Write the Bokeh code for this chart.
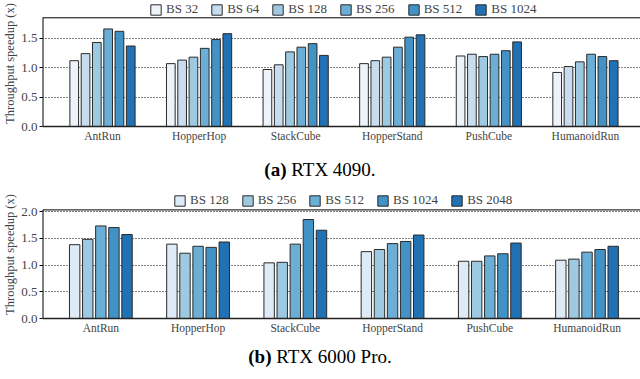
from bokeh.plotting import figure
from bokeh.models import (ColumnDataSource, Range1d, FixedTicker, Legend, Span,
                          LegendItem, Div, NumeralTickFormatter)
from bokeh.layouts import column
from bokeh.transform import dodge
from bokeh.embed import file_html
from bokeh.resources import INLINE

# ---------------- data ----------------
envs = ["AntRun", "HopperHop", "StackCube", "HopperStand", "PushCube", "HumanoidRun"]

labels_4090 = ["BS 32", "BS 64", "BS 128", "BS 256", "BS 512", "BS 1024"]
rtx4090_bs32 = [1.12, 1.07, 0.97, 1.07, 1.20, 0.92]
rtx4090_bs64 = [1.24, 1.13, 1.05, 1.12, 1.23, 1.02]
rtx4090_bs128 = [1.43, 1.18, 1.27, 1.18, 1.19, 1.10]
rtx4090_bs256 = [1.66, 1.33, 1.35, 1.35, 1.23, 1.23]
rtx4090_bs512 = [1.62, 1.48, 1.41, 1.52, 1.29, 1.19]
rtx4090_bs1024 = [1.37, 1.58, 1.21, 1.56, 1.44, 1.12]
colors_4090 = ["#eef2fb", "#c8dcf0", "#9ecae1", "#6baed6", "#4292c6", "#2171b5"]

labels_6000 = ["BS 128", "BS 256", "BS 512", "BS 1024", "BS 2048"]
rtx6000_bs128 = [1.38, 1.39, 1.04, 1.25, 1.07, 1.09]
rtx6000_bs256 = [1.48, 1.22, 1.05, 1.29, 1.07, 1.11]
rtx6000_bs512 = [1.73, 1.35, 1.39, 1.40, 1.17, 1.24]
rtx6000_bs1024 = [1.70, 1.33, 1.85, 1.44, 1.21, 1.29]
rtx6000_bs2048 = [1.57, 1.43, 1.65, 1.56, 1.41, 1.35]
colors_6000 = ["#deebf7", "#9ecae1", "#6baed6", "#4292c6", "#2171b5"]

ticks_4090 = [0.0, 0.5, 1.0, 1.5]
ticks_6000 = [0.0, 0.5, 1.0, 1.5, 2.0]

SERIF = "Liberation Serif"
W = 640


def make_chart(series, labels, colors, y_spine, ticks, bar_w, pitch, height,
               border_bottom, spine_px, legend_x, legend_px, xr):
    """spine_px: pixels from figure top to the top spine; legend_px: to legend bottom."""
    data = {"x": list(range(len(envs)))}
    for i, s in enumerate(series):
        data["s%d" % i] = s
    src = ColumnDataSource(data)

    frame_h = height - border_bottom
    y_end = y_spine * frame_h / (frame_h - spine_px)

    p = figure(width=W, height=height, output_backend="svg", toolbar_location=None,
               title=None,
               x_range=Range1d(*xr), y_range=Range1d(0, y_end),
               min_border_left=42, min_border_right=0, min_border_top=0,
               min_border_bottom=border_bottom, x_axis_location="below")
    p.outline_line_color = None
    p.background_fill_color = "white"
    p.border_fill_color = "white"

    xa = p.below[0]
    ya = p.left[0]

    p.xgrid.grid_line_color = None
    p.ygrid.ticker = FixedTicker(ticks=ticks)
    p.ygrid.grid_line_color = "black"
    p.ygrid.grid_line_dash = "1 2"
    p.ygrid.grid_line_width = 1

    n = len(series)
    items = []
    for i in range(n):
        off = (i - (n - 1) / 2) * pitch
        r = p.vbar(x=dodge("x", off), top="s%d" % i, width=bar_w, source=src,
                   fill_color=colors[i], line_color="#2a2a2a", line_width=1)
        items.append(LegendItem(label=labels[i], renderers=[r]))

    # spines: top and left (only up to the top spine)
    p.add_layout(Span(location=y_spine, dimension="width", line_color="black", line_width=1))
    p.segment(x0=xr[0], y0=0, x1=xr[0], y1=y_spine, line_color="black", line_width=2)

    legend = Legend(items=items, orientation="horizontal",
                    location=(legend_x, frame_h - legend_px),
                    label_text_font=SERIF, label_text_font_size="13px",
                    glyph_width=13, glyph_height=13, label_standoff=4, spacing=12,
                    padding=0, margin=0, border_line_color=None, background_fill_alpha=0,
                    label_height=13)
    p.add_layout(legend, "center")

    # x axis
    xa.ticker = FixedTicker(ticks=list(range(len(envs))))
    xa.major_label_overrides = {i: e for i, e in enumerate(envs)}
    xa.major_label_text_font = SERIF
    xa.major_label_text_font_size = "11.5px"
    xa.major_tick_line_color = None
    xa.minor_tick_line_color = None
    xa.major_tick_out = 0
    xa.major_label_standoff = 3
    xa.axis_line_color = "#222222"
    xa.axis_line_width = 1.5

    ya.ticker = FixedTicker(ticks=ticks)
    ya.formatter = NumeralTickFormatter(format="0.0")
    ya.axis_line_color = None
    ya.major_label_text_font = SERIF
    ya.major_label_text_font_size = "13px"
    ya.major_tick_out = 3
    ya.major_tick_in = 0
    ya.minor_tick_line_color = None
    ya.major_label_standoff = 2
    ya.axis_label = "Throughput speedup (x)"
    ya.axis_label_text_font = SERIF
    ya.axis_label_text_font_size = "12.5px"
    ya.axis_label_text_font_style = "normal"
    ya.axis_label_standoff = 1
    return p


p1 = make_chart([rtx4090_bs32, rtx4090_bs64, rtx4090_bs128, rtx4090_bs256,
                 rtx4090_bs512, rtx4090_bs1024],
                labels_4090, colors_4090, 1.85, ticks_4090, 0.09, 0.117,
                144, 18, 17.3, 107, 17, (-0.621, 5.57))
p2 = make_chart([rtx6000_bs128, rtx6000_bs256, rtx6000_bs512, rtx6000_bs1024,
                 rtx6000_bs2048],
                labels_6000, colors_6000, 2.03, ticks_6000, 0.107, 0.1346,
                146, 18, 19.4, 131, 18, (-0.60, 5.55))


def caption(tag, text, height, pad):
    html = ('<div style="width:%dpx;text-align:center;font-family:\'%s\';font-size:19px;'
            'line-height:22px;padding-top:%dpx;color:black"><b>%s</b> %s</div>'
            % (W, SERIF, pad, tag, text))
    return Div(text=html, width=W, height=height, margin=0)


d1 = caption("(a)", "RTX 4090.", 46, 15)
d2 = caption("(b)", "RTX 6000 Pro.", 40, 10)

layout = column(p1, d1, p2, d2, spacing=0)
open("out.html", "w").write(file_html(layout, INLINE))
